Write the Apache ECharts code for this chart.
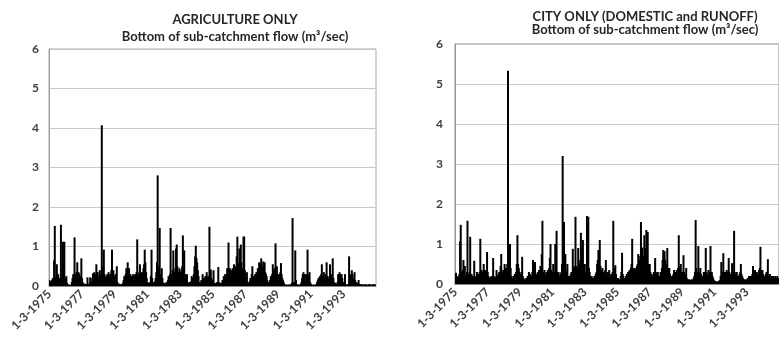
<!DOCTYPE html>
<html><head><meta charset="utf-8">
<script src="https://cdn.jsdelivr.net/npm/echarts@6/dist/echarts.min.js"></script>
<style>html,body{margin:0;padding:0;background:#fff}#c{width:779px;height:341px}</style>
</head><body><div id="c"></div>
<script>
// Half-monthly samples from 1-3-1975 through Feb 1995 (24 per year)
const startYear = 1975;
const tickLabels = ["1-3-1975","1-3-1977","1-3-1979","1-3-1981","1-3-1983","1-3-1985","1-3-1987","1-3-1989","1-3-1991","1-3-1993"];
const titleLeft = ["AGRICULTURE ONLY", "Bottom of sub-catchment flow (m³/sec)"];
const titleRight = ["CITY ONLY (DOMESTIC and RUNOFF)", "Bottom of sub-catchment flow (m³/sec)"];

const agricultureFlow = [
0.15,0.06,0.12,0.04,0.15,0.2,0.1,0.65,1.52,0.18,0.25,0.55,0.15,0.3,0.12,0.2,0.1,1.55,0.2,0.15,1.12,0.25,1.12,0.18,
0.1,0.25,0.08,0.03,0.02,0.04,0.02,0.03,0.02,0.1,0.2,0.3,0.25,1.23,0.3,0.15,0.35,0.6,0.2,0.35,0.3,0.12,0.25,0.7,
0.2,0.1,0.05,0.03,0.06,0.02,0.05,0.03,0.22,0.04,0.06,0.03,0.22,0.05,0.1,0.2,0.32,0.15,0.35,0.25,0.3,0.55,0.2,0.35,
0.15,0.25,0.4,0.1,0.3,4.07,0.5,0.2,0.92,0.3,0.15,0.25,0.1,0.3,0.2,0.35,0.25,0.3,0.2,0.4,0.92,0.3,0.4,0.25,
0.2,0.3,0.15,0.5,0.1,0.05,0.03,0.06,0.02,0.04,0.03,0.05,0.08,0.15,0.25,0.2,0.3,0.45,0.25,0.6,0.3,0.45,0.2,0.3,
0.15,0.25,0.2,0.3,0.25,0.2,0.3,0.25,0.35,1.18,0.3,0.25,0.35,0.55,0.3,0.25,0.35,0.3,0.45,0.55,0.92,0.6,0.35,0.2,
0.1,0.05,0.08,0.04,0.1,0.25,0.92,0.2,0.08,0.05,0.1,0.12,0.2,0.35,0.6,2.8,0.5,0.35,1.47,0.3,0.15,0.45,0.2,0.08,
0.05,0.08,0.04,0.06,0.1,0.05,0.15,0.25,0.2,0.3,1.47,0.3,0.25,0.4,0.9,0.35,0.3,0.45,0.95,1.05,0.5,0.35,0.3,0.45,
0.35,0.25,0.4,0.5,1.28,0.4,0.9,0.3,0.2,0.15,0.3,0.1,0.08,0.05,0.1,0.05,0.12,0.25,0.1,0.2,0.3,0.5,0.75,1.02,
0.7,0.6,0.4,0.25,0.1,0.05,0.08,0.15,0.05,0.3,0.12,0.2,0.08,0.25,0.15,0.35,0.2,0.25,0.1,1.5,0.3,0.42,0.2,0.15,
0.1,0.4,0.05,0.08,0.03,0.05,0.1,0.04,0.48,0.1,0.05,0.03,0.08,0.05,0.15,0.1,0.25,0.2,0.3,0.25,0.3,0.45,0.2,1.1,
0.3,0.45,0.25,0.4,0.3,0.45,0.35,0.55,0.3,0.5,0.4,0.75,1.25,0.5,0.6,0.95,0.5,1.05,0.6,0.45,0.4,1.25,1.25,0.4,
0.2,0.25,0.35,0.1,0.05,0.08,0.12,0.2,0.15,0.3,0.5,0.2,0.25,0.15,0.3,0.2,0.35,0.3,0.45,0.4,0.6,0.5,0.55,0.7,
0.5,0.45,0.62,0.4,0.6,0.35,0.3,0.25,0.15,0.1,0.05,0.08,0.15,0.25,0.2,0.3,0.55,0.3,0.4,0.45,1.08,0.4,0.5,0.3,
0.25,0.3,0.2,0.35,0.58,0.3,0.2,0.15,0.1,0.05,0.03,0.02,0.04,0.02,0.03,0.02,0.04,0.02,0.03,0.05,0.08,1.72,0.1,0.05,
0.1,0.9,0.15,0.05,0.03,0.02,0.04,0.02,0.03,0.05,0.1,0.2,0.3,0.35,0.25,0.3,0.2,0.3,0.25,0.92,0.3,0.2,0.35,0.1,
0.05,0.02,0.03,0.02,0.04,0.02,0.03,0.02,0.05,0.1,0.15,0.2,0.15,0.25,0.2,0.3,0.55,0.2,0.25,0.35,0.15,0.2,0.3,0.6,
0.25,0.2,0.15,0.25,0.55,0.2,0.15,0.3,0.7,0.2,0.1,0.05,0.08,0.04,0.05,0.1,0.3,0.25,0.35,0.3,0.25,0.3,0.2,0.1,
0.05,0.1,0.3,0.05,0.03,0.02,0.04,0.05,0.75,0.2,0.3,0.25,0.4,0.3,0.2,0.15,0.35,0.15,0.1,0.05,0.08,0.04,0.15,0.05,
0.03,0.02,0.05,0.03,0.02,0.04,0.02,0.03,0.05,0.02,0.03,0.02,0.04,0.03,0.05,0.02,0.03,0.04,0.02,0.03,0.05,0.02,0.03,0.04
];

const cityFlow = [
0.15,0.28,0.12,0.2,0.1,0.18,0.25,1.07,1.48,0.3,0.2,0.35,0.6,0.25,0.45,0.15,0.2,0.3,1.58,0.25,0.15,0.3,1.18,0.2,
0.25,0.15,0.2,0.12,0.58,0.2,0.1,0.15,0.3,0.2,0.25,0.15,0.3,1.13,0.25,0.35,0.2,0.3,0.5,0.25,0.35,0.2,0.3,0.8,
0.3,0.2,0.15,0.1,0.18,0.12,0.2,0.15,0.65,0.2,0.12,0.18,0.15,0.35,0.2,0.15,0.25,0.3,0.2,0.45,0.75,0.3,0.25,0.35,
0.3,0.5,0.25,0.4,0.3,0.5,5.33,0.68,0.65,1.0,0.4,0.2,0.15,0.1,0.2,0.15,0.25,0.2,0.3,0.5,1.22,0.5,0.4,0.3,
0.25,0.2,0.3,0.68,0.2,0.15,0.1,0.12,0.08,0.15,0.1,0.2,0.15,0.3,0.2,0.25,0.2,0.15,0.3,0.6,0.55,0.3,0.55,0.2,
0.25,0.15,0.3,0.2,0.35,0.3,0.45,0.4,0.75,1.58,0.3,0.25,0.35,0.2,0.25,0.3,0.2,0.35,0.3,0.4,0.65,1.0,0.35,0.3,
0.25,0.5,0.3,0.2,1.0,0.4,1.33,0.3,0.2,0.3,0.15,0.2,0.25,0.3,0.5,3.2,0.6,1.55,0.5,0.75,0.35,0.3,0.5,0.2,
0.15,0.2,0.12,0.25,0.3,0.2,0.88,0.4,0.3,0.45,1.68,0.45,0.3,0.4,0.9,0.35,0.5,0.6,1.28,0.7,0.9,1.1,0.4,0.5,
0.3,0.25,0.5,1.7,0.75,1.68,0.4,0.3,0.2,0.15,0.2,0.1,0.15,0.12,0.2,0.15,0.25,0.3,0.5,0.6,0.85,0.5,1.1,0.45,
0.3,0.35,0.4,0.25,0.3,0.2,0.35,0.6,0.25,0.2,0.3,0.15,0.35,0.2,0.15,0.25,0.2,0.3,1.58,0.4,0.3,0.47,0.25,0.15,
0.1,0.15,0.08,0.12,0.1,0.2,0.3,0.78,0.25,0.2,0.15,0.1,0.15,0.2,0.25,0.15,0.3,0.2,0.35,0.3,0.4,0.5,1.13,0.4,
0.35,0.3,0.4,0.35,0.3,0.45,0.5,0.75,0.5,0.6,0.7,1.55,0.92,0.9,0.6,0.7,1.22,0.8,0.9,1.35,0.7,1.3,0.5,0.4,
0.5,0.3,0.2,0.25,0.15,0.2,0.3,0.25,0.65,0.3,0.2,0.25,0.3,0.2,0.15,0.2,0.3,0.25,0.4,0.6,0.85,0.7,0.82,0.6,
0.5,0.45,0.9,0.4,0.3,0.4,0.25,0.2,0.15,0.2,0.15,0.25,0.35,0.2,0.3,0.25,0.35,0.3,0.4,1.22,0.45,0.35,0.5,0.3,
0.25,0.3,0.72,0.3,0.25,0.2,0.4,0.15,0.1,0.08,0.12,0.1,0.08,0.1,0.12,0.08,0.1,0.15,0.2,0.3,1.6,0.4,0.3,0.2,
0.95,0.3,0.2,0.4,0.25,0.2,0.15,0.2,0.3,0.25,0.3,0.9,0.3,0.25,0.2,0.35,0.25,0.3,0.95,0.25,0.3,0.2,0.15,0.1,
0.08,0.05,0.07,0.05,0.06,0.05,0.08,0.06,0.1,0.2,0.55,0.3,0.25,0.77,0.3,0.2,0.25,0.3,0.35,0.2,0.3,0.65,0.3,0.25,
0.2,0.25,0.52,0.3,0.25,1.33,0.3,0.2,0.25,0.3,0.2,0.15,0.2,0.25,0.3,0.5,0.25,0.2,0.15,0.1,0.12,0.08,0.1,0.12,
0.1,0.15,0.12,0.2,0.15,0.1,0.2,0.15,0.25,0.45,0.3,0.2,0.35,0.25,0.3,0.2,0.25,0.3,0.35,0.4,0.93,0.35,0.3,0.35,
0.25,0.2,0.15,0.2,0.25,0.3,0.2,0.62,0.2,0.15,0.25,0.2,0.15,0.2,0.15,0.2,0.15,0.1,0.2,0.15,0.1,0.2,0.15,0.1
];

// category labels: 1st and 16th of each month, from March 1975
const categories = [];
for (let i = 0; i < agricultureFlow.length; i++) {
  const m = Math.floor(i / 2);
  const month = ((2 + m) % 12) + 1;
  const year = startYear + Math.floor((2 + m) / 12);
  categories.push((i % 2 === 0 ? '1' : '16') + '-' + month + '-' + year);
}

const FONT = 'Lato';
const textCol = '#404040';
function xAxisCfg(gi) {
  return {
    type: 'category', gridIndex: gi, data: categories, boundaryGap: true,
    axisLine: { lineStyle: { color: '#888', width: 1 } },
    axisTick: { interval: 47, length: 4, lineStyle: { color: '#888' } },
    axisLabel: { interval: 47, rotate: 45, margin: 6, color: textCol, fontFamily: FONT,
      fontWeight: 'bold', fontSize: 12,
      formatter: (v) => tickLabels.indexOf(v) >= 0 ? v : '' },
    splitLine: { show: false }
  };
}
function yAxisCfg(gi, margin) {
  return {
    type: 'value', gridIndex: gi, min: 0, max: 6, interval: 1,
    axisLine: { show: true, lineStyle: { color: '#999' } },
    axisTick: { show: false },
    axisLabel: { color: textCol, fontFamily: FONT, fontWeight: 'bold', fontSize: 12, margin: margin },
    splitLine: { lineStyle: { color: '#c8c8c8', width: 1 } }
  };
}
const chart = echarts.init(document.getElementById('c'), null, { renderer: 'canvas' });
chart.setOption({
  animation: false,
  backgroundColor: '#fff',
  title: [
    { text: titleLeft[0] + '\n' + titleLeft[1], left: 230, top: 7, textAlign: 'center',
      textStyle: { fontFamily: FONT, fontWeight: 'bold', fontSize: 13, color: '#262626', lineHeight: 16.5 } },
    { text: titleRight[0] + '\n' + titleRight[1], left: 640, top: 5, textAlign: 'center',
      textStyle: { fontFamily: FONT, fontWeight: 'bold', fontSize: 13, color: '#262626', lineHeight: 13 } }
  ],
  grid: [
    { left: 49, right: 403, top: 49, bottom: 55, show: true, borderColor: '#aaa', borderWidth: 1 },
    { left: 455, right: -7, top: 44, bottom: 57, show: true, borderColor: '#888', borderWidth: 1 }
  ],
  xAxis: [xAxisCfg(0), xAxisCfg(1)],
  yAxis: [yAxisCfg(0, 10), yAxisCfg(1, 12)],
  series: [
    { type: 'bar', xAxisIndex: 0, yAxisIndex: 0, data: agricultureFlow, barWidth: 2, barMinWidth: 2,
      large: false, itemStyle: { color: '#000' } },
    { type: 'bar', xAxisIndex: 1, yAxisIndex: 1, data: cityFlow, barWidth: 2, barMinWidth: 2,
      large: false, itemStyle: { color: '#000' } }
  ]
});
</script></body></html>
